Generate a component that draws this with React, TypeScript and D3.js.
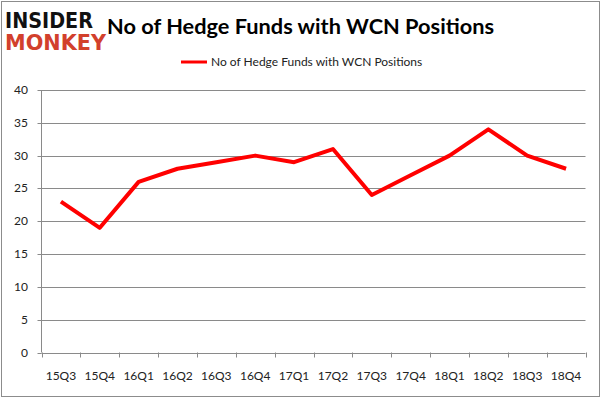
import React from "react";
import * as d3 from "d3";

const categories = ["15Q3","15Q4","16Q1","16Q2","16Q3","16Q4","17Q1","17Q2","17Q3","17Q4","18Q1","18Q2","18Q3","18Q4"];
const values = [23,19,26,28,29,30,29,31,24,27,30,34,30,28];
const yTicks = [0,5,10,15,20,25,30,35,40];
const title = "No of Hedge Funds with WCN Positions";
const seriesName = "No of Hedge Funds with WCN Positions";

const W = 602, H = 398;
const left = 41.5, right = 585.5, top = 90, bottom = 352.5;

export default function App() {
  const x = d3.scaleBand<string>().domain(categories).range([left, right]);
  const y = d3.scaleLinear().domain([0, 40]).range([bottom, top]);
  const line = d3.line<number>()
    .x((_, i) => (x(categories[i]) as number) + x.bandwidth() / 2)
    .y((d) => y(d));
  const font = "Lato, 'Open Sans', sans-serif";
  return (
    <div style={{ position: "fixed", left: 0, top: 0 }}>
      <svg width={W} height={H} style={{ display: "block", background: "#fff" }}>
        <rect x={1.5} y={1.5} width={598} height={395} fill="#fff" stroke="#8c8c8c" strokeWidth={1} />
        {/* logo */}
        <text x={5} y={28} fontFamily="'DejaVu Sans', sans-serif" fontWeight={900} fontSize={21}
          textLength={88} lengthAdjust="spacingAndGlyphs" fill="#111">INSIDER</text>
        <text x={5} y={50} fontFamily="'DejaVu Sans', sans-serif" fontWeight={900} fontSize={21}
          textLength={101} lengthAdjust="spacingAndGlyphs" fill="#d2402c">MONKEY</text>
        <text x={300.5} y={34} textAnchor="middle" fontFamily={font} fontWeight={700} fontSize={21}
          textLength={387} lengthAdjust="spacingAndGlyphs" fill="#000">{title}</text>
        {/* legend */}
        <line x1={181} x2={207} y1={62} y2={62} stroke="#ff0000" strokeWidth={3} />
        <text x={211} y={66} fontFamily={font} fontSize={12} fill="#222">{seriesName}</text>
        {/* grid */}
        {yTicks.map((t) => (
          <g key={t}>
            {t > 0 && <line x1={left} x2={right} y1={Math.round(y(t)) + 0.5} y2={Math.round(y(t)) + 0.5} stroke="#8a8a8a" strokeWidth={1} />}
            <line x1={left - 4} x2={left} y1={Math.round(y(t)) + 0.5} y2={Math.round(y(t)) + 0.5} stroke="#8a8a8a" strokeWidth={1} />
            <text x={28} y={y(t) + 4} textAnchor="end" fontFamily={font} fontSize={12} fill="#222">{t}</text>
          </g>
        ))}
        <line x1={left} x2={left} y1={top} y2={bottom} stroke="#8a8a8a" strokeWidth={1} />
        <line x1={left} x2={right} y1={Math.round(bottom) + 0.5} y2={Math.round(bottom) + 0.5} stroke="#8a8a8a" strokeWidth={1} />
        {categories.map((c, i) => (
          <g key={c}>
            <line x1={Math.round(left + i * x.step()) + 0.5} x2={Math.round(left + i * x.step()) + 0.5}
              y1={bottom} y2={bottom + 5} stroke="#8a8a8a" />
            <text x={(x(c) as number) + x.bandwidth() / 2} y={380} textAnchor="middle" fontFamily={font} fontSize={12} fill="#222">{c}</text>
          </g>
        ))}
        <line x1={Math.round(right) + 0.5} x2={Math.round(right) + 0.5} y1={bottom} y2={bottom + 5} stroke="#8a8a8a" />
        <path d={line(values) || ""} fill="none" stroke="#ff0000" strokeWidth={4} strokeLinejoin="round" strokeLinecap="butt" />
      </svg>
    </div>
  );
}
